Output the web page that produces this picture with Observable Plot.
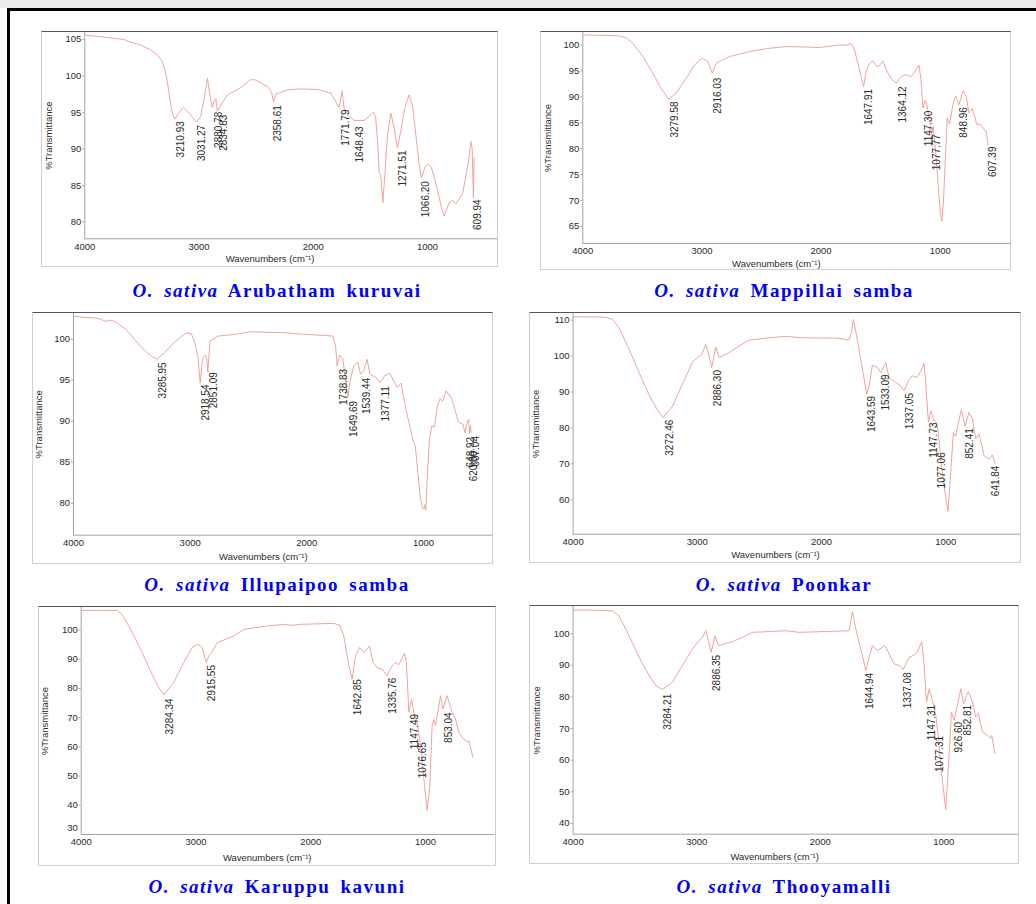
<!DOCTYPE html>
<html><head><meta charset="utf-8">
<script src="https://cdn.jsdelivr.net/npm/d3@7"></script>
<script src="https://cdn.jsdelivr.net/npm/@observablehq/plot@0.6"></script>
<style>
html,body{margin:0;padding:0;background:#fff;}
#page{position:relative;width:1036px;height:904px;overflow:hidden;background:#fff;}
.topband{position:absolute;left:0;top:0;width:1036px;height:8px;background:#ececec;}
.bl{position:absolute;left:7px;top:8px;width:3px;height:896px;background:#000;}
.bt{position:absolute;left:7px;top:8px;width:1029px;height:3px;background:#000;}
.box{position:absolute;box-sizing:border-box;border:1px solid #cfcfcf;border-top:1px solid #555;background:#fff;}
.box svg{display:block;}
.cap{position:absolute;width:500px;text-align:center;font-family:"Liberation Serif","Times New Roman",serif;font-weight:bold;font-size:19px;line-height:19px;color:#0000ff;letter-spacing:1.5px;word-spacing:4px;white-space:nowrap;}
.cap i{font-style:italic;}
</style></head>
<body><div id="page"><div class="topband"></div><div class="bt"></div><div class="bl"></div></div>
<script>
// ---------- data (wavenumber cm-1 / %Transmittance) ----------
const xTicks = [4000, 3000, 2000, 1000];

const arubathamWn = [4000,3860,3743,3656,3626,3510,3422,3364,3320,3291,3268,3247,3230,3212,3189,3136,3087,3020,2985,2950,2926,2909,2885,2868,2853,2839,2809,2751,2634,2547,2503,2401,2366,2348,2328,2226,2109,1963,1846,1774,1747,1730,1686,1642,1555,1511,1473,1453,1432,1423,1409,1391,1373,1350,1321,1292,1263,1234,1199,1161,1132,1102,1073,1053,1024,994,965,913,878,854,811,781,752,694,656,636,621,609,598,592];
const arubathamT  = [105.6,105.36,105.14,105.0,104.77,104.23,103.55,102.86,101.95,100.36,98.32,96.05,94.68,94.09,94.68,95.68,94.91,93.68,94.45,97.4,99.68,97.86,95.68,96.5,96.86,95.14,96.05,97.41,98.41,99.5,99.45,98.55,97.86,96.5,97.5,98.09,98.23,98.14,97.64,95.68,97.95,95.5,94.45,93.91,93.91,94.45,95.05,94.23,89.68,86.73,86.5,82.64,86.5,91.95,94.91,92.86,90.14,92.41,95.59,97.41,96.05,91.95,87.86,86.05,87.41,87.95,87.41,84.45,81.95,80.82,82.64,82.95,82.5,83.77,86.95,88.77,91.05,90.14,83.32,88.77];
const arubathamPeakWn = [3210.93,3031.27,2880.78,2834.83,2358.61,1771.79,1648.43,1271.51,1066.20,609.94];
const arubathamPeakT  = [93.8,93.3,95.1,94.7,96.0,95.4,93.1,89.8,85.6,83.1];
const arubathamYTicks = [80,85,90,95,100,105];

const mappillaiWn = [4000,3832,3692,3636,3580,3496,3412,3342,3278,3216,3132,3062,2998,2950,2914,2880,2768,2572,2433,2293,2153,2013,1873,1775,1747,1719,1691,1663,1643,1621,1593,1565,1531,1509,1481,1453,1411,1369,1327,1285,1243,1201,1179,1162,1145,1128,1111,1089,1072,1058,1033,1011,997,986,972,958,941,921,893,871,843,809,781,759,731,711,692,664,627,613,599];
const mappillaiT  = [101.92,101.86,101.73,101.41,100.32,97.76,94.55,91.54,89.55,90.71,93.59,96.15,97.44,96.79,94.55,96.47,97.76,98.85,99.36,99.68,99.62,99.49,99.94,100.0,100.32,99.04,96.47,93.91,91.99,94.87,96.47,96.92,95.83,96.03,96.92,95.19,93.46,92.63,93.91,94.23,93.91,95.19,96.15,93.59,87.82,89.29,88.46,85.26,82.69,84.29,78.21,71.15,67.31,66.03,69.87,77.56,85.9,84.74,88.46,90.19,88.46,91.15,90.06,86.86,87.69,86.22,84.62,84.74,83.65,83.21,80.77];
const mappillaiPeakWn = [3279.58,2916.03,1647.91,1364.12,1147.30,1077.77,848.96,607.39];
const mappillaiPeakT  = [89.1,93.7,91.5,92.0,87.3,82.8,88.0,80.4];
const mappillaiYTicks = [65,70,75,80,85,90,95,100];

const illupaipooWn = [4000,3906,3820,3763,3720,3677,3620,3549,3477,3391,3320,3283,3220,3134,3034,2991,2963,2934,2914,2894,2871,2857,2849,2829,2763,2620,2477,2191,2049,1906,1777,1754,1740,1720,1692,1669,1649,1626,1597,1563,1540,1512,1483,1460,1406,1372,1334,1292,1254,1226,1192,1163,1135,1092,1069,1049,1026,1011,997,989,980,969,949,929,906,880,857,837,806,763,734,700,663,643,629,612,606,597,592];
const illupaipooT  = [102.83,102.67,102.63,102.43,102.19,102.35,101.94,101.21,100.0,98.66,97.85,97.57,98.38,99.68,100.81,100.69,99.8,97.98,94.66,97.65,98.06,97.65,96.03,99.8,100.4,100.61,100.93,100.81,100.65,100.53,100.4,99.19,96.76,98.1,97.65,95.14,92.91,95.14,96.76,97.25,95.75,96.15,97.57,95.75,95.34,94.74,95.55,95.87,94.94,94.13,94.66,92.31,90.49,87.85,86.84,83.81,80.57,79.55,79.27,79.84,79.15,82.79,87.85,89.47,89.27,91.9,92.79,92.43,93.72,92.91,91.58,89.88,89.68,88.58,89.68,90.28,88.46,89.47,88.66];
const illupaipooPeakWn = [3285.95,2918.54,2851.09,1738.83,1649.69,1539.44,1377.11,648.92,620.60,607.04];
const illupaipooPeakT  = [97.2,94.5,96.0,96.4,92.5,95.3,94.3,88.1,86.4,88.2];
const illupaipooYTicks = [80,85,90,95,100];

const poonkarWn = [4000,3898,3737,3683,3630,3549,3469,3388,3321,3276,3200,3120,3039,2999,2964,2932,2905,2884,2852,2825,2744,2664,2583,2422,2288,2154,2020,1886,1778,1760,1744,1725,1703,1671,1636,1617,1591,1550,1524,1483,1457,1403,1363,1336,1296,1269,1229,1188,1175,1161,1140,1121,1094,1076,1059,1041,1014,995,982,960,939,920,898,874,845,813,786,759,732,692,652,625,603];
const poonkarT  = [110.92,110.92,110.83,110.18,107.87,101.87,95.4,89.11,84.95,82.92,85.97,92.16,98.35,99.56,100.48,103.25,100.02,96.78,102.51,99.56,100.94,102.79,104.45,105.1,105.47,105.1,105.01,105.01,104.55,106.49,110.18,106.95,102.79,96.32,89.39,91.7,97.43,96.78,95.4,98.17,94.01,92.62,91.7,90.3,93.36,94.47,94.01,96.78,97.98,92.62,81.53,84.77,82.0,81.53,78.3,71.37,63.98,59.35,56.77,67.67,78.76,77.65,81.53,85.05,80.43,84.31,82.46,76.91,78.3,72.29,71.18,72.48,69.98];
const poonkarPeakWn = [3272.46,2886.30,1643.59,1533.09,1337.05,1147.73,1077.06,852.41,641.84];
const poonkarPeakT  = [82.3,96.1,88.9,94.9,89.7,81.5,73.2,79.9,69.5];
const poonkarYTicks = [60,70,80,90,100,110];

const karuppuWn = [4000,3832,3686,3643,3570,3483,3396,3338,3280,3193,3106,3033,2984,2946,2911,2888,2859,2815,2670,2583,2380,2234,2162,2089,1799,1746,1712,1668,1639,1610,1575,1537,1488,1456,1421,1378,1334,1291,1262,1233,1183,1166,1145,1122,1102,1073,1038,1009,986,962,942,927,913,869,849,811,768,739,710,681,637,623,608,588];
const karuppuT  = [106.7,106.7,106.7,105.34,100.23,93.41,86.02,81.14,77.73,82.05,88.86,93.98,95.11,93.98,88.86,91.14,92.5,95.68,97.95,100.23,101.36,101.93,101.59,101.93,102.27,101.59,97.95,87.73,83.18,91.14,93.98,92.27,94.55,88.86,87.16,86.59,84.32,87.73,88.86,88.07,92.05,88.86,71.82,76.36,71.82,68.41,59.32,46.82,38.3,46.82,67.27,69.32,67.27,77.5,72.95,77.5,71.82,69.55,65.0,63.3,61.59,62.16,59.89,56.48];
const karuppuPeakWn = [3284.34,2915.55,1642.85,1335.76,1147.49,1076.65,853.04];
const karuppuPeakT  = [76.6,88.0,83.2,83.7,71.3,61.6,71.8];
const karuppuYTicks = [40,50,60,70,80,90,100];
const karuppuBottomTick = [30];

const thooyamalliWn = [4000,3844,3682,3628,3547,3466,3385,3331,3277,3196,3115,3034,2980,2953,2926,2905,2883,2851,2824,2710,2629,2548,2279,2171,2009,1766,1739,1712,1672,1631,1604,1577,1537,1477,1442,1402,1361,1329,1280,1240,1213,1178,1159,1140,1118,1092,1065,1043,1016,984,962,938,916,862,841,801,768,741,720,687,647,620,612,587];
const thooyamalliT  = [107.45,107.45,107.24,105.67,99.37,92.55,86.78,83.63,82.37,84.68,89.93,95.17,97.8,98.85,100.94,97.8,94.12,99.37,96.22,97.48,98.85,100.42,100.94,100.42,100.63,100.94,106.93,101.47,95.17,88.35,92.55,96.22,94.65,96.22,93.6,90.45,89.93,88.67,92.55,93.28,94.33,97.48,89.93,78.38,82.58,78.91,74.19,66.84,55.3,44.28,58.45,75.24,72.61,82.58,77.86,81.74,78.38,73.66,74.71,68.94,67.89,66.84,67.89,62.12];
const thooyamalliPeakWn = [3284.21,2886.35,1644.94,1337.08,1147.31,1077.31,926.60,852.81];
const thooyamalliPeakT  = [81.0,93.3,87.6,87.8,77.5,67.7,72.1,77.5];
const thooyamalliYTicks = [40,50,60,70,80,90,100];

const varieties = ["Arubatham kuruvai","Mappillai samba","Illupaipoo samba","Poonkar","Karuppu kavuni","Thooyamalli"];
const yDomains = [[77.7,105.95],[61.7,102.4],[76.1,103.16],[50.4,111.85],[30,107.7],[36.6,108.6]];

// ---------- layout (page pixels) ----------
const layout = [
  {box:[40.7,30.7,497.7,266.7],  axisX:84,    axisY:238,   k:0.11423, capX:277, capBase:297, yLabDx:-36, xLabDy:20.3},
  {box:[539.7,30.7,1011.3,270],  axisX:582,   axisY:242.7, k:0.11913, capX:784, capBase:297, yLabDx:-35, xLabDy:20.6},
  {box:[31.7,312.3,493.3,564.3], axisX:72.7,  axisY:535,   k:0.11667, capX:277, capBase:591, yLabDx:-34.4, xLabDy:21.7},
  {box:[528.7,312.3,1020.7,562.7],axisX:572.3,axisY:534,   k:0.12423, capX:784, capBase:591, yLabDx:-37, xLabDy:21},
  {box:[38.3,606,495.7,866.3],   axisX:81,    axisY:834,   k:0.11477, capX:277, capBase:893, yLabDx:-36, xLabDy:23.3},
  {box:[528.7,605.3,1019,864],   axisX:572.3, axisY:834,   k:0.12357, capX:784, capBase:893, yLabDx:-36, xLabDy:22.3}
];

const series = [
  [arubathamWn, arubathamT, arubathamPeakWn, arubathamPeakT, arubathamYTicks],
  [mappillaiWn, mappillaiT, mappillaiPeakWn, mappillaiPeakT, mappillaiYTicks],
  [illupaipooWn, illupaipooT, illupaipooPeakWn, illupaipooPeakT, illupaipooYTicks],
  [poonkarWn, poonkarT, poonkarPeakWn, poonkarPeakT, poonkarYTicks],
  [karuppuWn, karuppuT, karuppuPeakWn, karuppuPeakT, karuppuYTicks],
  [thooyamalliWn, thooyamalliT, thooyamalliPeakWn, thooyamalliPeakT, thooyamalliYTicks]
];

const page = document.getElementById("page");
const fmtInt = d3.format("d"), fmt2 = d3.format(".2f");
const lineColor = "#f0a39b", textColor = "#2a2a2a", axisColor = "#a3a3a3";

series.forEach(([wn, T, pWn, pT, yTicks], i) => {
  const L = layout[i];
  const [bx0, by0, bx1, by1] = L.box;
  const innerL = bx0 + 1, innerT = by0 + 1, innerR = bx1 - 1, innerB = by1 - 1;
  const W = innerR - innerL, H = innerB - innerT;
  const mL = L.axisX - innerL, mB = innerB - L.axisY;
  const xEnd = 4000 - (innerR - L.axisX) / L.k;
  const yDom = yDomains[i];
  const curve = wn.map((w, j) => ({wn: w, t: T[j]}));
  const peaks = pWn.map((w, j) => ({wn: w, t: pT[j]}));
  const boxCenter = (bx0 + bx1) / 2, plotCenter = (L.axisX + innerR) / 2;

  const marks = [
    Plot.ruleX([4000], {stroke: axisColor, strokeWidth: 1}),
    Plot.ruleY([yDom[0]], {stroke: axisColor, strokeWidth: 1}),
    Plot.axisX({ticks: xTicks, tickFormat: fmtInt, tickSize: 0, tickPadding: 4, fontSize: 9.5, fill: textColor, label: null}),
    Plot.axisY({ticks: yTicks, tickFormat: fmtInt, tickSize: 2, tickPadding: 1.5, fontSize: 9.5, fill: textColor, stroke: axisColor, label: null}),
    Plot.line(curve, {x: "wn", y: "t", stroke: lineColor, strokeWidth: 1, curve: "linear"}),
    Plot.text(peaks, {x: "wn", y: "t", text: d => fmt2(d.wn), rotate: -90, textAnchor: "end", lineAnchor: "middle", dx: 6, dy: 0, fontSize: 10, fill: textColor}),
    Plot.text(["%Transmittance"], {frameAnchor: "left", text: d => d, rotate: -90, textAnchor: "middle", lineAnchor: "middle", dx: L.yLabDx, fontSize: 9.5, fill: textColor}),
    Plot.text(["Wavenumbers (cm\u207B\u00B9)"], {frameAnchor: "bottom", text: d => d, textAnchor: "middle", lineAnchor: "middle", dx: boxCenter - plotCenter, dy: L.xLabDy, fontSize: 9.5, fill: textColor})
  ];
  if (i === 4) {
    marks.push(Plot.text(karuppuBottomTick, {x: 4000, y: d => d, text: d => fmtInt(d), textAnchor: "end", lineAnchor: "middle", dx: -3.5, dy: -7, fontSize: 9.5, fill: textColor}));
  }

  const chart = Plot.plot({
    width: W, height: H,
    marginLeft: mL, marginRight: 0, marginTop: 0, marginBottom: mB,
    x: {domain: [4000, xEnd], axis: null},
    y: {domain: yDom, axis: null},
    style: {fontFamily: "'Liberation Sans', Arial, sans-serif", fontSize: "9.5px", background: "transparent", overflow: "visible", color: textColor},
    marks
  });

  const box = document.createElement("div");
  box.className = "box";
  box.style.left = bx0 + "px"; box.style.top = by0 + "px";
  box.style.width = (bx1 - bx0) + "px"; box.style.height = (by1 - by0) + "px";
  box.appendChild(chart);
  page.appendChild(box);

  const cap = document.createElement("div");
  cap.className = "cap";
  cap.style.left = (L.capX - 250) + "px";
  cap.style.top = (L.capBase - 16) + "px";
  cap.innerHTML = "<i>O. sativa</i> " + varieties[i];
  page.appendChild(cap);
});
</script>
</body></html>
